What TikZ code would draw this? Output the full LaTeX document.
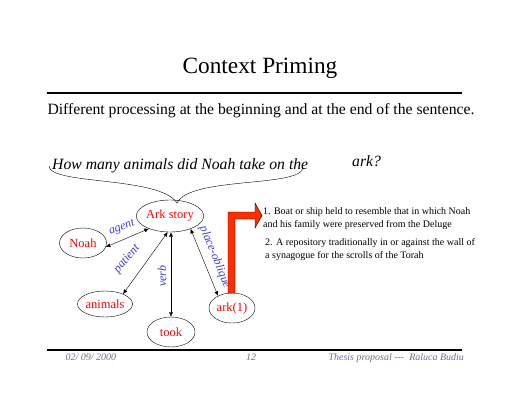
\documentclass[tikz,border=0pt]{standalone}
\usepackage{fontspec}
\setmainfont{Liberation Serif}
\usetikzlibrary{shapes.geometric,arrows.meta}
\definecolor{conceptred}{RGB}{255,0,0}
\definecolor{relblue}{RGB}{60,60,210}
\definecolor{footgray}{RGB}{110,110,150}
\definecolor{arrowred}{RGB}{255,45,0}
\tikzset{
  concept/.style={ellipse,draw,thin,text=conceptred,font=\fontsize{12.5}{14}\selectfont,inner sep=0pt},
  rel/.style={text=relblue,font=\fontsize{12}{14}\selectfont\itshape,inner sep=0pt},
  link/.style={{Latex[length=4.5pt,width=4pt]}-{Latex[length=4.5pt,width=4pt]},thin},
  rule/.style={line width=1.6pt},
  foot/.style={text=footgray,font=\fontsize{10}{12}\selectfont\itshape,anchor=base},
  sense/.style={font=\fontsize{10}{13}\selectfont,align=left,anchor=north west,inner sep=0pt},
}

\begin{document}
\begin{tikzpicture}[x=1pt,y=-1pt]
	\useasboundingbox (0,0) rectangle (520,402);
	
	% heading
	\node[anchor=base,font=\fontsize{23.3}{26}\selectfont] (title) at (260,73) {Context Priming};
	\coordinate (TL) at (47,93);
	\coordinate (TR) at (462,93);
	\draw[rule] (TL)--(TR);
	\node[anchor=base,font=\fontsize{15.7}{18}\selectfont] (sub) at (261,114) {Different processing at the beginning and at the end of the sentence.};
	
	% sentence and brace
	\node[anchor=base west,inner sep=0pt,font=\fontsize{15.7}{18}\selectfont\itshape] (sent) at (52,169) {How many animals did Noah take on the};
	\node[anchor=base west,inner sep=0pt,font=\fontsize{15.7}{18}\selectfont\itshape] (word) at (352,166) {ark?};
	\coordinate (BL) at (49,166);
	\coordinate (BM) at (177,203);
	\coordinate (BR) at (303,167);
	\draw (BL) .. controls (49,185) and (160,176) .. (BM) .. controls (190,176) and (303,188) .. (BR);
	
	% concepts
	\node[concept,minimum width=54pt,minimum height=32pt] (story) at (170,216) {Ark story};
	\node[concept,minimum width=47pt,minimum height=30pt] (noah) at (83,243) {Noah};
	\node[concept,minimum width=46pt,minimum height=26pt] (animals) at (105,304) {animals};
	\node[concept,minimum width=48pt,minimum height=30pt] (took) at (171,332) {took};
	\node[concept,minimum width=46pt,minimum height=30pt] (ark) at (232,308) {ark(1)};
	
	\draw[link] (story.211)--(noah.350);
	\draw[link] (story.262)--(animals.29);
	\draw[link] (story.south-|took)--(took);
	\draw[link] (story.328)--(ark.139);
	
	\node[rel,rotate=21] (agent) at (122,228) {agent};
	\node[rel,rotate=50] (patient) at (127,259) {patient};
	\node[rel,rotate=90] (verb) at (162,276) {verb};
	\node[rel,rotate=-68] (place) at (215,257) {place-oblique};
	
	% sense arrow
	\draw[fill=arrowred,thin] (228,293)--(228,212)--(255,212)--(255,203)--(262,215.5)--(255,228)--(255,219)--(235,219)--(235,293)--cycle;
	
	\node[sense] (sense1) at (263,207) {1. Boat or ship held to resemble that in which Noah\\and his family were preserved from the Deluge};
	\node[sense] (sense2) at (265,238) {2. A repository traditionally in or against the wall of\\a synagogue for the scrolls of the Torah};
	
	% footer
	\coordinate (FL) at (47,350);
	\coordinate (FR) at (462,350);
	\draw[rule] (FL)--(FR);
	\node[foot,anchor=base west] (date) at (62,360) {02/ 09/ 2000};
	\node[foot] (page) at (251,360) {12};
	\node[foot,anchor=base west] (who) at (325,360) {Thesis proposal -{}-{}-~ Raluca Budiu};
\end{tikzpicture}
\end{document}
